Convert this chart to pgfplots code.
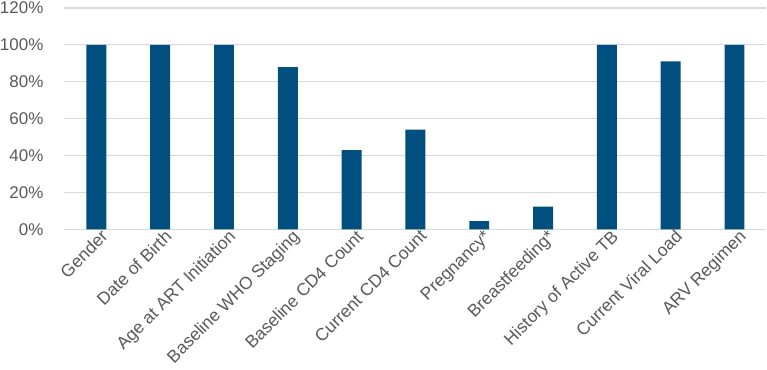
\documentclass[border=0pt]{standalone}
\usepackage{pgfplots}
\pgfplotsset{compat=1.18}
\usepackage{fontspec}
\setmainfont{Liberation Sans}
\definecolor{barblue}{HTML}{004F7E}
\definecolor{txtgray}{HTML}{595959}
\definecolor{gridgray}{HTML}{D9D9D9}
\begin{document}
\begin{tikzpicture}
\begin{axis}[
  scale only axis,
  width=704pt, height=222pt,
  xmin=-0.5, xmax=10.5,
  ymin=0, ymax=120,
  ytick={0,20,40,60,80,100,120},
  yticklabel={\pgfmathprintnumber{\tick}\%},
  /pgf/number format/assume math mode=true,
  xtick={0,...,10},
  xticklabels={Gender,Date of Birth,Age at ART Initiation,Baseline WHO Staging,Baseline CD4 Count,Current CD4 Count,Pregnancy*,Breastfeeding*,History of Active TB,Current Viral Load,ARV Regimen},
  x tick label style={rotate=45, anchor=north east, font=\fontsize{17.5}{19}\selectfont, text=txtgray, inner sep=2pt, xshift=5pt},
  y tick label style={font=\fontsize{17}{18}\selectfont, text=txtgray, inner xsep=0pt, inner ysep=2pt, xshift=-21pt},
  major tick length=0pt,
  ymajorgrids,
  grid style={gridgray, line width=1.2pt},
  axis line style={draw=none},
  ybar, bar width=20pt,
  clip=false,
]
\addplot[fill=barblue, draw=none] coordinates {
(0,100) (1,100) (2,100) (3,88) (4,43) (5,54) (6,4.5) (7,12.3) (8,100) (9,91) (10,100)};
\end{axis}
\end{tikzpicture}
\end{document}
